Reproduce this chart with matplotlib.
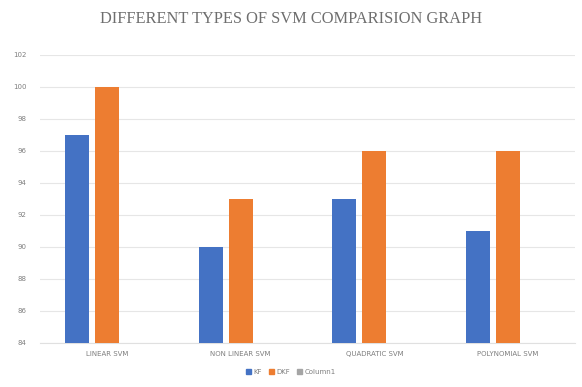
import numpy as np
import matplotlib
matplotlib.use("Agg")
import matplotlib.pyplot as plt
from matplotlib.patches import Patch

# svm variants and their accuracy for each filter
categories = ['LINEAR SVM', 'NON LINEAR SVM', 'QUADRATIC SVM', 'POLYNOMIAL SVM']
kf = [97, 90, 93, 91]
dkf = [100, 93, 96, 96]
column1 = []  # empty series, only shows up in the legend

yticks = [84, 86, 88, 90, 92, 94, 96, 98, 100, 102]

BLUE = '#4472C4'
ORANGE = '#ED7D31'
GREY = '#A5A5A5'
TEXT = '#7f7f7f'

fig = plt.figure(figsize=(5.82, 3.87), dpi=100)
ax = fig.add_axes([0.069, 0.114, 0.919, 0.745])

x = np.arange(len(categories))
width = 0.18
step = 0.225
ax.bar(x - step, kf, width, color=BLUE, zorder=3)
ax.bar(x, dkf, width, color=ORANGE, zorder=3)

ax.set_xlim(-0.5, len(categories) - 0.5)
ax.set_ylim(84, 102)
ax.set_yticks(yticks)
ax.set_yticklabels([str(t) for t in yticks])
ax.set_xticks(x)
ax.set_xticklabels(categories)
ax.tick_params(axis='both', length=0, labelsize=5, colors=TEXT)
ax.tick_params(axis='y', pad=10)
ax.tick_params(axis='x', pad=6)

ax.yaxis.grid(True, color='#e6e6e6', linewidth=0.8, zorder=0)
for s in ['top', 'right', 'left']:
    ax.spines[s].set_visible(False)
ax.spines['bottom'].set_color('#e0e0e0')
ax.spines['bottom'].set_linewidth(0.8)

fig.text(0.5, 0.95, 'DIFFERENT TYPES OF SVM COMPARISION GRAPH',
         ha='center', va='center', fontsize=11.8, color='#6e6e6e',
         family='Liberation Serif')

handles = [Patch(color=BLUE, label='KF'),
           Patch(color=ORANGE, label='DKF'),
           Patch(color=GREY, label='Column1')]
fig.legend(handles=handles, loc='center', bbox_to_anchor=(0.5, 0.038),
           ncol=3, frameon=False, fontsize=5, handlelength=0.7,
           handleheight=0.7, handletextpad=0.4, columnspacing=1.0,
           labelcolor=TEXT)

fig.savefig('out.png', dpi=100)
